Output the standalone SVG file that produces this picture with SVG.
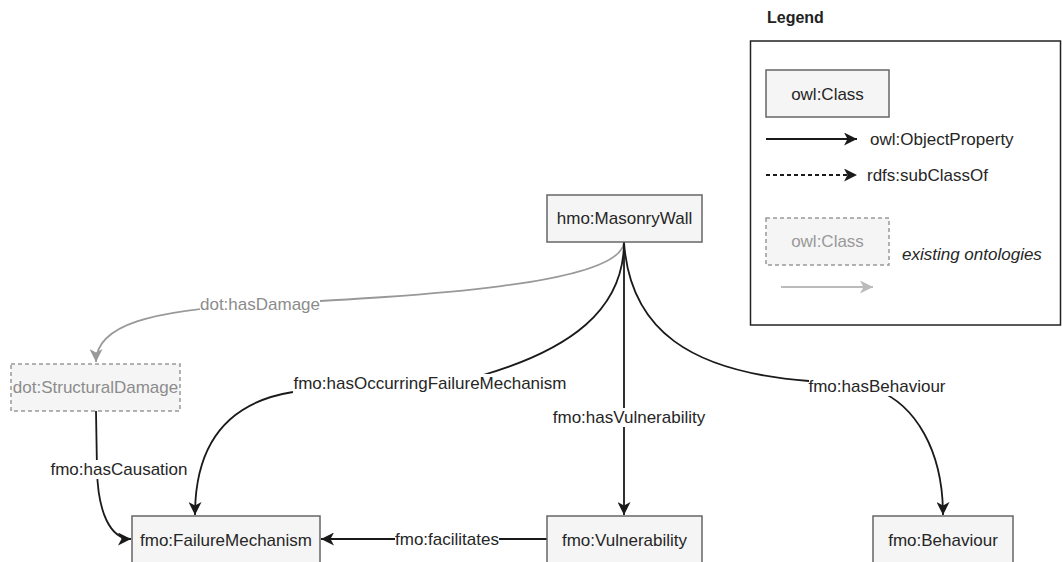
<svg xmlns="http://www.w3.org/2000/svg" width="1062" height="562" viewBox="0 0 1062 562">
<style>
text{font-family:"Liberation Sans",Arial,sans-serif;font-size:17px;fill:#262626}
.node{fill:#f5f5f5;stroke:#666;stroke-width:1.5}
.ext{fill:#f5f5f5;stroke:#999;stroke-width:1.5;stroke-dasharray:4 3}
.edge{fill:none;stroke:#1a1a1a;stroke-width:1.8}
.gedge{fill:none;stroke:#999;stroke-width:1.8}
.lbl{text-anchor:middle}
.glbl{fill:#8c8c8c}
.bg{fill:#fff}
</style>
<defs>
<marker id="ab" markerUnits="userSpaceOnUse" markerWidth="14" markerHeight="13" refX="13" refY="6.5" orient="auto">
<path d="M0,0 L13,6.5 L0,13 L3.5,6.5 Z" fill="#1a1a1a"/>
</marker>
<marker id="ag" markerUnits="userSpaceOnUse" markerWidth="14" markerHeight="13" refX="13" refY="6.5" orient="auto">
<path d="M0,0 L13,6.5 L0,13 L3.5,6.5 Z" fill="#999"/>
</marker>
<marker id="al" markerUnits="userSpaceOnUse" markerWidth="14" markerHeight="13" refX="13" refY="6.5" orient="auto">
<path d="M0,0 L13,6.5 L0,13 L3.5,6.5 Z" fill="#bbb"/>
</marker>
</defs>
<rect width="1062" height="562" fill="#fff"/>

<g id="connectors">
<path id="e-hasDamage" class="gedge" d="M624,242 C621,285 420,296 262,304 C150,310 96,325 96,362" marker-end="url(#ag)"/>
<rect class="bg" x="200" y="295" width="120" height="19"/>
<text class="lbl glbl" x="260" y="310">dot:hasDamage</text>

<path id="e-hasOccurring" class="edge" d="M624,242 C624,310 570,350 480,376 C420,392 330,385 293,392 C230,402 195,440 195,515" marker-end="url(#ab)"/>
<rect class="bg" x="293" y="374" width="273" height="19"/>
<text class="lbl" x="430" y="389">fmo:hasOccurringFailureMechanism</text>

<path id="e-hasVulnerability" class="edge" d="M624,242 L624,515" marker-end="url(#ab)"/>
<rect class="bg" x="553" y="408" width="152" height="19"/>
<text class="lbl" x="629" y="423">fmo:hasVulnerability</text>

<path id="e-hasBehaviour" class="edge" d="M624,242 C630,330 690,372 809,381 L877,390 C915,405 943,450 943,515" marker-end="url(#ab)"/>
<rect class="bg" x="809" y="377" width="137" height="19"/>
<text class="lbl" x="877" y="392">fmo:hasBehaviour</text>

<path id="e-hasCausation" class="edge" d="M96,411 L97,470 C98,512 110,539 131,539" marker-end="url(#ab)"/>
<rect class="bg" x="50" y="460" width="138" height="19"/>
<text class="lbl" x="119" y="475">fmo:hasCausation</text>

<path id="e-facilitates" class="edge" d="M547,539 L321,539" marker-end="url(#ab)"/>
<rect class="bg" x="395" y="530" width="104" height="19"/>
<text class="lbl" x="447" y="545">fmo:facilitates</text>
</g>

<g id="n-MasonryWall">
<rect class="node" x="547" y="195" width="155" height="47"/>
<text class="lbl" x="624.5" y="224">hmo:MasonryWall</text>
</g>
<g id="n-StructuralDamage">
<rect class="ext" x="11" y="364" width="169" height="47"/>
<text class="lbl glbl" x="95.5" y="393">dot:StructuralDamage</text>
</g>
<g id="n-FailureMechanism">
<rect class="node" x="132" y="516" width="188" height="47"/>
<text class="lbl" x="226" y="546">fmo:FailureMechanism</text>
</g>
<g id="n-Vulnerability">
<rect class="node" x="547" y="516" width="155" height="47"/>
<text class="lbl" x="624.5" y="546">fmo:Vulnerability</text>
</g>
<g id="n-Behaviour">
<rect class="node" x="873" y="516" width="140" height="47"/>
<text class="lbl" x="943" y="546">fmo:Behaviour</text>
</g>

<g id="legend">
<text x="767" y="23" style="font-weight:bold;font-size:16px;fill:#222">Legend</text>
<rect x="750.5" y="41" width="310" height="284" fill="none" stroke="#222" stroke-width="1.5"/>
<rect class="node" x="766" y="70" width="123" height="47"/>
<text class="lbl" x="827.5" y="100">owl:Class</text>
<path class="edge" d="M766,139 L857,139" marker-end="url(#ab)"/>
<text x="870" y="145">owl:ObjectProperty</text>
<path class="edge" d="M766,175 L857,175" stroke-dasharray="4 3" marker-end="url(#ab)"/>
<text x="867" y="181">rdfs:subClassOf</text>
<rect class="ext" x="766" y="218" width="123" height="47"/>
<text class="lbl" x="827.5" y="247" style="fill:#999">owl:Class</text>
<text x="902" y="260" style="font-style:italic">existing ontologies</text>
<path d="M781,287 L873,287" fill="none" stroke="#bbb" stroke-width="1.8" marker-end="url(#al)"/>
</g>
</svg>
